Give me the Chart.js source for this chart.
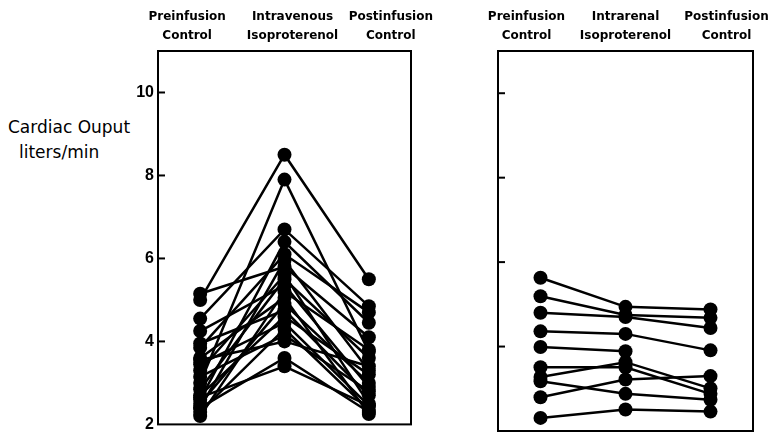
<!DOCTYPE html>
<html><head><meta charset="utf-8">
<script src="https://cdn.jsdelivr.net/npm/chart.js@4"></script>
<style>
body{margin:0;width:769px;height:438px;background:#fff;position:relative;overflow:hidden}
#c1{position:absolute;left:0;top:0}
#c2{position:absolute;left:430px;top:0}
.yt{position:absolute;font-family:'DejaVu Sans';font-size:17px;color:#000;white-space:nowrap}
</style></head><body>
<div class="yt" style="left:8px;top:117px">Cardiac Ouput</div>
<div class="yt" style="left:19px;top:142px">liters/min</div>
<canvas id="c1" width="470" height="438"></canvas>
<canvas id="c2" width="339" height="438"></canvas>
<script>
// ---- data ----
const leftCategories = [['Preinfusion','Control'],['Intravenous','Isoproterenol'],['Postinfusion','Control']];
const rightCategories = [['Preinfusion','Control'],['Intrarenal','Isoproterenol'],['Postinfusion','Control']];
const yTicks = [2,4,6,8,10];
const yMin = 2, yMax = 11;

// intravenous study: one entry per subject
const leftPre  = [5.00,3.00,4.55,2.60,3.85,2.40,5.15,3.30,2.85,4.25,2.20,3.60,2.50,3.95,2.70,3.45,2.30,3.15,3.55,2.40,2.65];
const leftIV   = [8.50,7.90,6.70,6.40,6.10,5.95,5.80,5.60,5.50,5.35,5.20,5.05,4.90,4.75,4.60,4.45,4.30,4.15,4.00,3.60,3.40];
const leftPost = [5.50,3.75,4.85,4.45,4.70,3.30,4.10,2.50,3.60,2.90,3.80,2.25,3.00,2.70,3.20,2.45,2.35,2.80,3.40,2.30,2.45];

// intrarenal study
const rightPre  = [5.63,5.19,4.80,4.36,3.99,3.51,3.28,3.18,2.80,2.31];
const rightIR   = [4.94,4.75,4.70,4.30,3.89,3.51,3.63,2.88,3.22,2.51];
const rightPost = [4.88,4.68,4.44,3.91,null,2.88,3.01,2.74,3.30,2.46];

// ---- drawing ----
const boxPlugin = {
  id:'box',
  afterDraw(chart, args, opts){
    const {ctx, chartArea:a} = chart;
    const ys = chart.scales.y, xs = chart.scales.x;
    ctx.save();
    ctx.strokeStyle='#000';
    ctx.lineWidth=2;
    ctx.strokeRect(a.left,a.top,a.right-a.left,a.bottom-a.top);
    yTicks.forEach(v=>{
      if(v===yMin) return;
      const py = ys.getPixelForValue(v);
      ctx.beginPath(); ctx.moveTo(a.left,py); ctx.lineTo(a.left+7,py); ctx.stroke();
    });
    // column headers
    ctx.fillStyle='#000';
    ctx.font="bold 12px 'DejaVu Sans'";
    ctx.textAlign='center'; ctx.textBaseline='middle';
    chart.data.labels.forEach((lab,i)=>{
      const px = xs.getPixelForValue(i) + opts.shift[i];
      ctx.fillText(lab[0], px, 17);
      ctx.fillText(lab[1], px, 36);
    });
    ctx.restore();
  }
};

function makeDatasets(pre, mid, post){
  return pre.map((v,i)=>({
    data:[v, mid[i], post[i]],
    borderColor:'#000', backgroundColor:'#000',
    borderWidth:2.5, pointRadius:7, pointBorderWidth:0,
    pointBackgroundColor:'#000', spanGaps:false, clip:false, tension:0
  }));
}

function makeChart(id, cats, pre, mid, post, yAxisWidth, padRight, showLabels, shift){
  return new Chart(document.getElementById(id), {
    type:'line',
    data:{labels:cats, datasets:makeDatasets(pre,mid,post)},
    plugins:[boxPlugin],
    options:{
      responsive:false, animation:false, devicePixelRatio:1,
      layout:{padding:{left:0,right:padRight,top:0,bottom:6}},
      plugins:{legend:{display:false}, tooltip:{enabled:false}, box:{shift:shift}},
      scales:{
        x:{
          type:'category', position:'top', offset:true,
          grid:{display:false, drawTicks:false}, border:{display:false},
          ticks:{display:false},
          afterFit(s){ s.height = 51; }
        },
        y:{
          min:yMin, max:yMax,
          grid:{display:false, drawTicks:false}, border:{display:false},
          afterBuildTicks(s){ s.ticks = yTicks.map(v=>({value:v})); },
          ticks:{display:showLabels, color:'#000', padding:4,
                 font:{family:"'Liberation Sans','DejaVu Sans'", size:16, weight:'bold'}},
          afterFit(s){ s.width = yAxisWidth; }
        }
      }
    }
  });
}

makeChart('c1', leftCategories, leftPre, leftIV, leftPost, 158, 59, true, [-13, 8, 22]);
makeChart('c2', rightCategories, rightPre, rightIR, rightPost, 68, 16, false, [-14, 0, 16]);
</script>
</body></html>
